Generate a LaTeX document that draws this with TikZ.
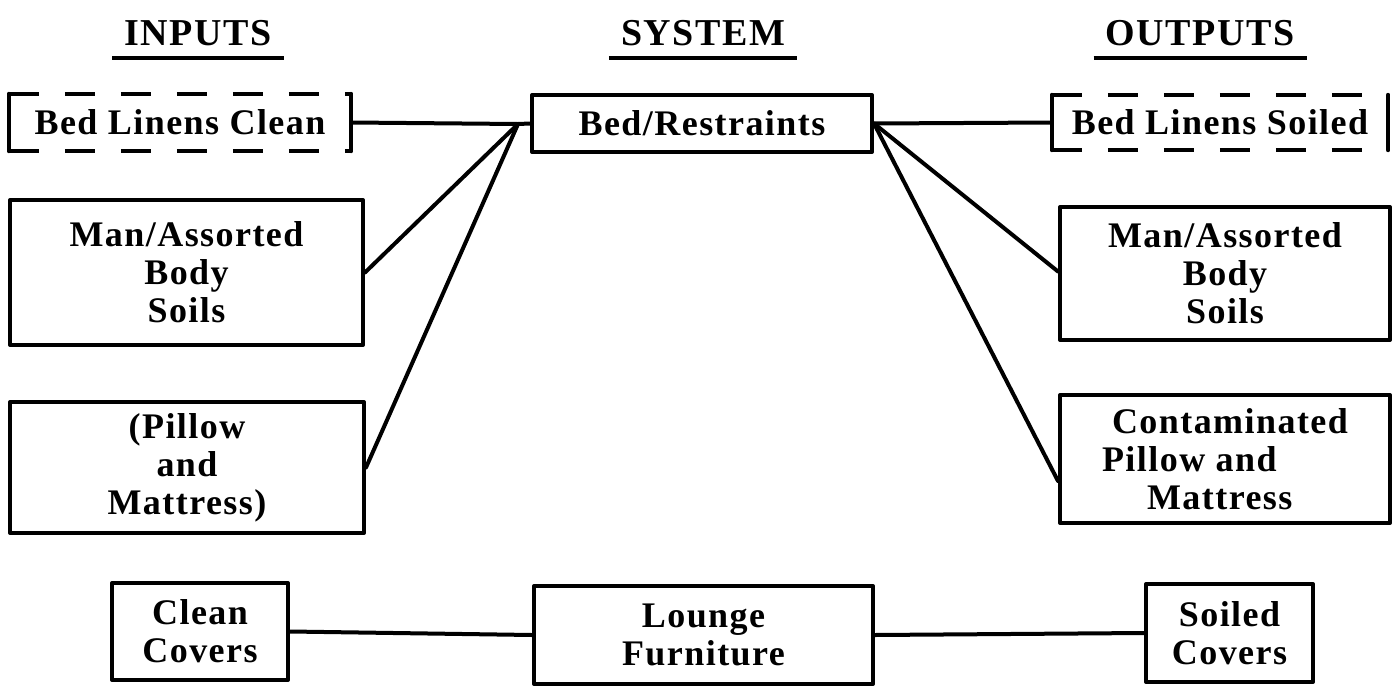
\documentclass[tikz,border=0pt]{standalone}
\usepackage{fontspec}
\setmainfont{Liberation Serif}[LetterSpace=4]
\usetikzlibrary{calc}
\begin{document}
\begin{tikzpicture}[x=1pt,y=-1pt,
  txt/.style={font=\fontsize{36}{38}\selectfont\bfseries, align=center},
  box/.style={txt, draw, line width=4pt, inner sep=0pt, line join=round},
  dbox/.style={txt, inner sep=0pt},
  sideline/.style={line width=4pt, line cap=round},
  dashline/.style={line width=4pt, dash pattern=on 30pt off 26pt},
  conn/.style={line width=4pt, line cap=round},
  hdr/.style={font=\fontsize{38}{40}\selectfont\bfseries, inner xsep=12pt, inner ysep=0pt, anchor=base},
  uline/.style={line width=4.5pt}]
\useasboundingbox (0,0) rectangle (1393,686);
% headers
\node[hdr] (hin) at (198,45) {INPUTS};
\node[hdr] (hsy) at (703,45) {SYSTEM};
\node[hdr] (hou) at (1200,45) {OUTPUTS};
\draw[uline] ([yshift=-13pt]hin.base west) -- ([yshift=-13pt]hin.base east);
\draw[uline] ([yshift=-13pt]hsy.base west) -- ([yshift=-13pt]hsy.base east);
\draw[uline] ([yshift=-13pt]hou.base west) -- ([yshift=-13pt]hou.base east);
% boxes
\node[dbox, minimum width=342pt, minimum height=57pt] (blc) at (180,122.5) {Bed Linens Clean};
\node[box, minimum width=340pt, minimum height=57pt] (bed) at (702,123.5) {Bed/Restraints};
\node[dbox, minimum width=336pt, minimum height=55pt] (bls) at (1220,122.5) {Bed Linens Soiled};
\node[box, minimum width=353pt, minimum height=145pt] (mal) at (186.5,272.5) {Man/Assorted\\Body\\Soils};
\node[box, minimum width=354pt, minimum height=131pt] (pil) at (187,467.5) {(Pillow\\and\\Mattress)};
\node[box, minimum width=330pt, minimum height=133pt] (mar) at (1225,273.5) {Man/Assorted\\Body\\Soils};
\node[box, minimum width=330pt, minimum height=128pt, align=left] (con) at (1225,459) {\hspace*{10pt}Contaminated\\Pillow and\\\hspace*{45pt}Mattress};
\node[box, minimum width=176pt, minimum height=97pt] (cc) at (200,631.5) {Clean\\Covers};
\node[box, minimum width=339pt, minimum height=98pt] (lf) at (703.5,635) {Lounge\\Furniture};
\node[box, minimum width=167pt, minimum height=98pt] (sc) at (1229.5,633) {Soiled\\Covers};
% dashed box outlines
\draw[sideline] (blc.north west) -- (blc.south west);
\draw[sideline] (blc.north east) -- (blc.south east);
\draw[dashline] (blc.north west) -- (blc.north east);
\draw[dashline] (blc.south west) -- (blc.south east);
\draw[sideline] (bls.north west) -- (bls.south west);
\draw[sideline] (bls.north east) -- (bls.south east);
\draw[dashline] (bls.north west) -- (bls.north east);
\draw[dashline] (bls.south west) -- (bls.south east);
% connectors
\coordinate (cl) at (518,124);
\draw[conn] (blc.east) -- (cl);
\draw[conn] (mal.east) -- (cl);
\draw[conn] (pil.east) -- (cl);
\draw[conn] (cl) -- (bed.west);
\draw[conn] (bed.east) -- (bls.west);
\draw[conn] (bed.east) -- ([yshift=2pt]mar.west);
\draw[conn] (bed.east) -- ([yshift=-22pt]con.west);
\draw[conn] (cc.east) -- (lf.west);
\draw[conn] (lf.east) -- (sc.west);
\end{tikzpicture}
\end{document}
